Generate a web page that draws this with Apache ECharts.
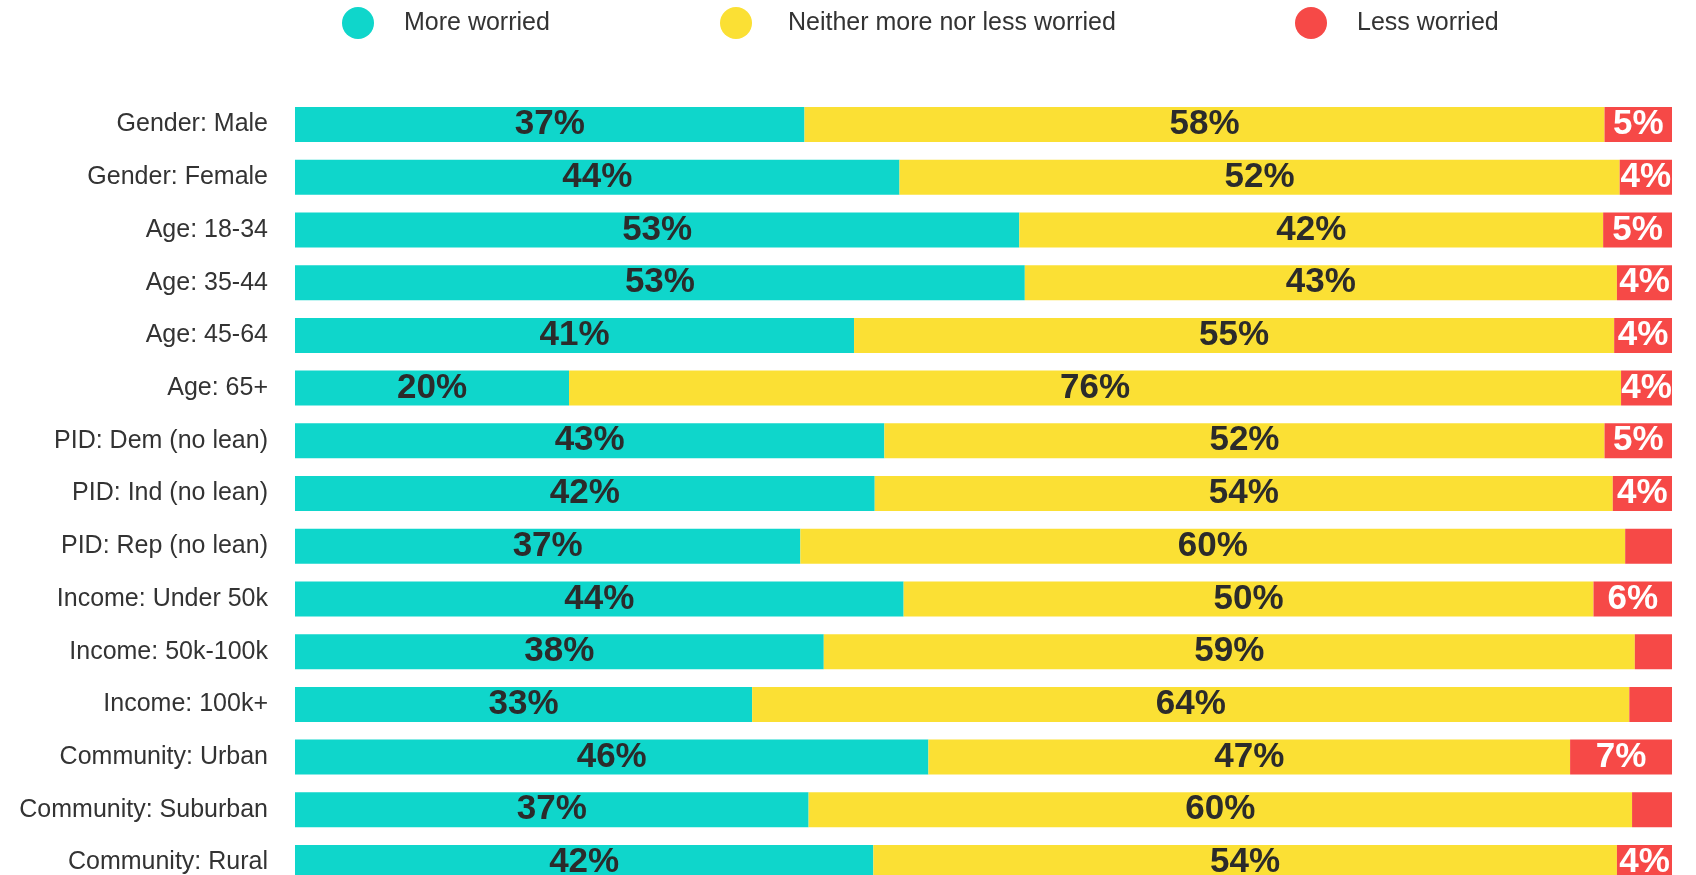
<!DOCTYPE html>
<html>
<head>
<meta charset="utf-8">
<script src="https://cdn.jsdelivr.net/npm/echarts@6/dist/echarts.min.js"></script>
<style>html,body{margin:0;padding:0;background:#fff}#c{width:1696px;height:875px}</style>
</head>
<body>
<div id="c"></div>
<script>
const categories = ['Gender: Male', 'Gender: Female', 'Age: 18-34', 'Age: 35-44', 'Age: 45-64', 'Age: 65+', 'PID: Dem (no lean)', 'PID: Ind (no lean)', 'PID: Rep (no lean)', 'Income: Under 50k', 'Income: 50k-100k', 'Income: 100k+', 'Community: Urban', 'Community: Suburban', 'Community: Rural'];
const seriesNames = ['More worried', 'Neither more nor less worried', 'Less worried'];
const moreWorried = [37.0, 43.9, 52.6, 53.0, 40.6, 19.9, 42.8, 42.1, 36.7, 44.2, 38.4, 33.2, 46.0, 37.3, 42.0];
const neither = [58.1, 52.3, 42.4, 43.0, 55.2, 76.4, 52.3, 53.6, 59.9, 50.1, 58.9, 63.7, 46.6, 59.8, 54.0];
const lessWorried = [4.9, 3.8, 5.0, 4.0, 4.2, 3.7, 4.9, 4.3, 3.4, 5.7, 2.7, 3.1, 7.4, 2.9, 4.0];

const colors = ['#0FD6CB', '#FBE034', '#F64947'];
const labelColors = ['#2b2b2b', '#2b2b2b', '#ffffff'];
const FONT = '"Liberation Sans", Arial, sans-serif';
const values = [moreWorried, neither, lessWorried];

const chart = echarts.init(document.getElementById('c'), null, {renderer: 'canvas'});
const legendLefts = [342, 720, 1295];
const legendPads = [25, 31, 25];
const option = {
  animation: false,
  textStyle: {fontFamily: FONT},
  legend: seriesNames.map((n, i) => ({
    data: [n],
    left: legendLefts[i],
    top: 7,
    padding: 0,
    icon: 'circle',
    itemWidth: 32,
    itemHeight: 32,
    selectedMode: false,
    textStyle: {fontFamily: FONT, fontSize: 25, color: '#333', padding: [0, 0, 0, legendPads[i]]}
  })),
  grid: {left: 295, right: 24, top: 98.2, height: 790.7, containLabel: false, outerBoundsMode: 'none'},
  xAxis: {type: 'value', min: 0, max: 100, show: false},
  yAxis: {
    type: 'category',
    data: categories,
    inverse: true,
    axisLine: {show: false},
    axisTick: {show: false},
    axisLabel: {fontFamily: FONT, fontSize: 25, color: '#333', margin: 27}
  },
  series: seriesNames.map((n, i) => ({
    name: n,
    type: 'bar',
    stack: 'total',
    barWidth: 35,
    itemStyle: {color: colors[i]},
    label: {
      show: true,
      position: 'inside',
      fontFamily: FONT,
      fontWeight: 'bold',
      fontSize: 35,
      color: labelColors[i],
      formatter: p => Math.round(p.value) >= 4 ? Math.round(p.value) + '%' : ''
    },
    data: values[i]
  }))
};
chart.setOption(option);
</script>
</body>
</html>
